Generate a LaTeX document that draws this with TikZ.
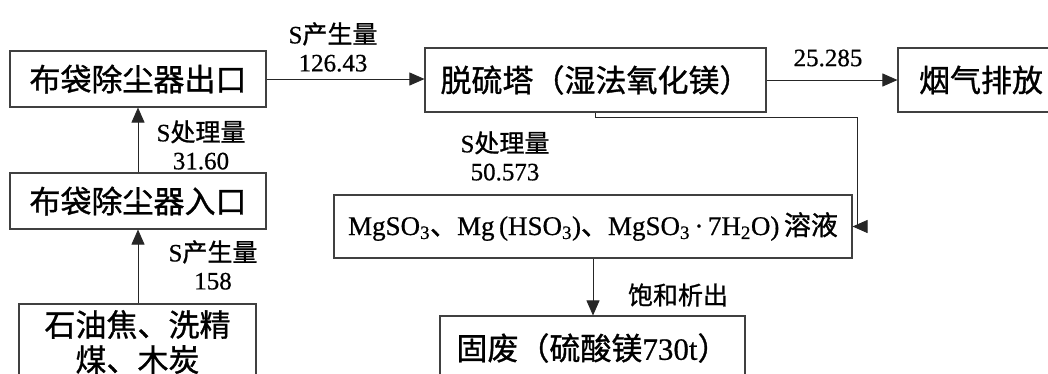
\documentclass[tikz,border=0pt]{standalone}
\usepackage{fontspec}
\setmainfont[FakeBold=0.6]{Liberation Serif}
\newfontfamily\cjk[FakeBold=1]{Noto Sans CJK SC}
\usetikzlibrary{arrows.meta}
\newcommand\boxfont{\fontsize{31}{35}\selectfont}
\newcommand\solfont{\fontsize{27}{32}\selectfont}
\newcommand\labfont{\fontsize{25}{28}\selectfont}
\begin{document}
\begin{tikzpicture}[x=1pt,y=-1pt,
  box/.style={draw=black!75, line width=1.1pt, inner sep=0pt, align=center, font=\boxfont},
  conn/.style={draw=black!85, line width=0.8pt, -{Triangle[length=15pt,width=13pt]}},
  lab/.style={inner sep=0pt, align=center, font=\labfont}]
\useasboundingbox (0,0) rectangle (1048,373);
\fill[white] (0,0) rectangle (1048,373);
% boxes
\node[box, minimum width=256pt, minimum height=56pt] (b1) at (138,79) {\cjk 布袋除尘器出口};
\node[box, minimum width=256pt, minimum height=56pt] (b2) at (138,201) {\cjk 布袋除尘器入口};
\node[box, minimum width=237pt, minimum height=76pt] (b3) at (137.5,342) {\cjk 石油焦、洗精\\\cjk 煤、木炭};
\node[box, minimum width=341pt, minimum height=64pt] (tower) at (595.5,80) {\cjk 脱硫塔（湿法氧化镁）};
\node[box, minimum width=166pt, minimum height=64pt] (smoke) at (981,80) {\cjk 烟气排放};
\node[box, minimum width=518pt, minimum height=63pt, font=\solfont] (sol) at (593,226.5)
  {MgSO\textsubscript{3}{\cjk 、}Mg\,(HSO\textsubscript{3}){\cjk 、}MgSO\textsubscript{3}\,·\,7H\textsubscript{2}O)\,{\cjk 溶液}};
\node[box, minimum width=305pt, minimum height=64pt] (solid) at (592.5,348) {{\cjk 固废（硫酸镁}730t{\cjk ）}};
% labels
\node[lab] (l1) at (333,47) {S{\cjk 产生量}\\126.43};
\node[lab] (l2) at (201,145) {S{\cjk 处理量}\\31.60};
\node[lab] (l3) at (213,265) {S{\cjk 产生量}\\158};
\node[lab] (l4) at (828,58) {25.285};
\node[lab] (l5) at (505,156) {S{\cjk 处理量}\\50.573};
\node[lab] (l6) at (678,295) {\cjk 饱和析出};
% connectors
\coordinate (c1) at (857,117);
\draw[conn] (b2.south |- b3.north) -- (b2.south);
\draw[conn] (b2.north) -- (b1.south);
\draw[conn] (b1.east) -- (b1.east -| tower.west);
\draw[conn] (tower.east) -- (smoke.west);
\draw[conn] (tower.south) -- (tower.south |- c1) -- (c1) |- (sol.east);
\draw[conn] (sol.south) -- (sol.south |- solid.north);
\end{tikzpicture}
\end{document}
